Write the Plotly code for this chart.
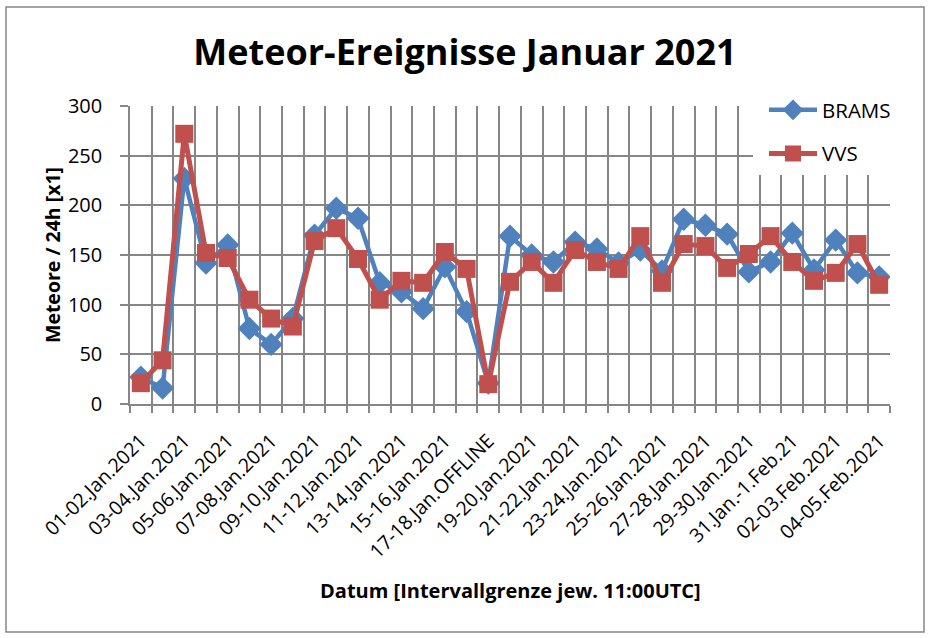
import plotly.graph_objects as go

# Intervals (24h, boundary at 11:00 UTC)
categories = [
    "01-02.Jan.2021", "02-03.Jan.2021", "03-04.Jan.2021", "04-05.Jan.2021",
    "05-06.Jan.2021", "06-07.Jan.2021", "07-08.Jan.2021", "08-09.Jan.2021",
    "09-10.Jan.2021", "10-11.Jan.2021", "11-12.Jan.2021", "12-13.Jan.2021",
    "13-14.Jan.2021", "14-15.Jan.2021", "15-16.Jan.2021", "16-17.Jan.2021",
    "17-18.Jan.OFFLINE", "18-19.Jan.2021", "19-20.Jan.2021", "20-21.Jan.2021",
    "21-22.Jan.2021", "22-23.Jan.2021", "23-24.Jan.2021", "24-25.Jan.2021",
    "25-26.Jan.2021", "26-27.Jan.2021", "27-28.Jan.2021", "28-29.Jan.2021",
    "29-30.Jan.2021", "30-31.Jan.2021", "31.Jan.-1.Feb.21", "01-02.Feb.2021",
    "02-03.Feb.2021", "03-04.Feb.2021", "04-05.Feb.2021",
]

brams = [27, 16, 227, 142, 160, 76, 60, 86, 170, 197, 187, 122, 113, 96, 138,
         93, 21, 169, 150, 143, 163, 156, 142, 155, 134, 186, 180, 171, 133,
         143, 172, 135, 165, 132, 128]

vvs = [21, 44, 272, 152, 147, 105, 86, 78, 164, 177, 146, 105, 124, 122, 153,
       136, 20, 123, 143, 122, 155, 143, 136, 169, 122, 161, 159, 137, 151,
       169, 143, 124, 132, 161, 120]

x = list(range(len(categories)))
shown = x[::2]

FONT = "Open Sans"
GRID = "#868686"

fig = go.Figure()

fig.add_trace(go.Scatter(
    x=x, y=brams, name="BRAMS", mode="lines+markers",
    line=dict(color="#4F81BD", width=4.5),
    marker=dict(symbol="diamond", size=18, color="#4F81BD"),
    legendgroup="a",
))
fig.add_trace(go.Scatter(
    x=x, y=vvs, name="VVS", mode="lines+markers",
    line=dict(color="#C0504D", width=5),
    marker=dict(symbol="square", size=18, color="#C0504D"),
    legendgroup="b",
))

# plot area in pixels: x 130..890, y 106..404
W, H = 930, 638
L, R, T, B = 130, 40, 106, 234
pw, ph = W - L - R, H - T - B


def px(xp):
    return (xp - L) / pw


def py(yp):
    return (H - B - yp) / ph


fig.update_xaxes(
    range=[-0.5, len(categories) - 0.5],
    tickmode="array", tickvals=shown,
    ticktext=[categories[i] for i in shown],
    tickangle=-45, ticks="", showgrid=False,
    tickfont=dict(family=FONT, size=19.5, color="black"),
    ticklabelstandoff=16,
    showline=True, linecolor=GRID, linewidth=1.5,
    minor=dict(tick0=-0.5, dtick=1, showgrid=True, gridcolor=GRID,
               gridwidth=1.5, ticks="outside", ticklen=7, tickcolor=GRID,
               tickwidth=1.5),
    zeroline=False,
)
fig.update_yaxes(
    range=[0, 300], dtick=50, showgrid=True, gridcolor=GRID, gridwidth=1.5,
    ticks="outside", ticklen=8, tickcolor=GRID, tickwidth=1.5,
    showline=True, linecolor=GRID, linewidth=1.5, zeroline=False,
    tickfont=dict(family=FONT, size=20, color="black"),
    ticklabelstandoff=14,
)

fig.update_layout(
    width=W, height=H,
    margin=dict(l=L, r=R, t=T, b=B),
    paper_bgcolor="white", plot_bgcolor="white",
    title=dict(text="<b>Meteor-Ereignisse Januar 2021</b>",
               x=0.5, xanchor="center", y=1 - 52 / H, yanchor="middle",
               font=dict(family=FONT, size=36, color="black")),
    showlegend=True,
    legend=dict(x=px(764), xanchor="left", y=py(90), yanchor="top",
                bgcolor="white", borderwidth=0, traceorder="grouped",
                tracegroupgap=14, itemwidth=48,
                font=dict(family=FONT, size=20.5, color="black")),
    annotations=[
        dict(text="<b>Meteore / 24h [x1]</b>", xref="paper", yref="paper",
             x=px(52), y=py(255), xanchor="center", yanchor="middle",
             textangle=-90, showarrow=False,
             font=dict(family=FONT, size=19.5, color="black")),
        dict(text="<b>Datum [Intervallgrenze jew. 11:00UTC]</b>",
             xref="paper", yref="paper", x=px(510), y=py(590),
             xanchor="center", yanchor="middle", showarrow=False,
             font=dict(family=FONT, size=20, color="black")),
    ],
    shapes=[
        dict(type="rect", xref="paper", yref="paper",
             x0=px(6), x1=px(924), y0=py(632), y1=py(7),
             line=dict(color=GRID, width=1.5), layer="below"),
        # white backing of the legend box over the grid
        dict(type="rect", xref="paper", yref="paper",
             x0=px(753), x1=px(900), y0=py(175), y1=py(92),
             fillcolor="white", line=dict(width=0), layer="above"),
    ],
)

# page body has a default margin; remove it so the figure sits at 0,0
fig.write_html("out.html", config={"displayModeBar": False},
               post_script="document.body.style.margin='0px';")
